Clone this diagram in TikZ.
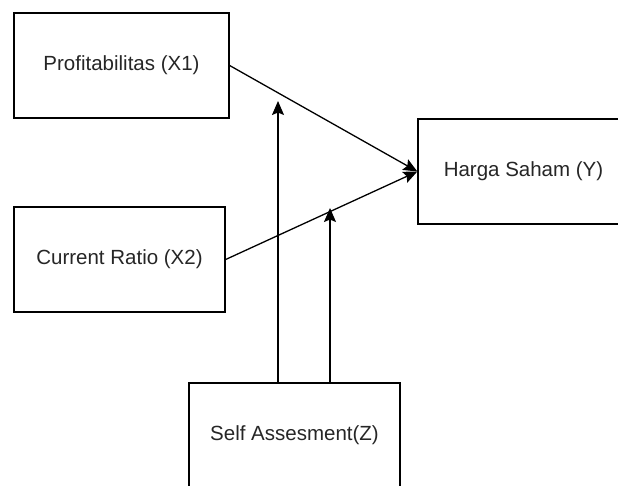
\documentclass[tikz,border=0pt]{standalone}
\usepackage{fontspec}
\setmainfont{Liberation Sans}
\usetikzlibrary{arrows.meta}
\definecolor{txt}{HTML}{262626}
\begin{document}
\begin{tikzpicture}[x=1pt,y=-1pt,
  box/.style={draw=black, line width=1.3pt, fill=white, minimum width=211pt, minimum height=105pt,
    inner sep=0pt, text=txt, font=\fontsize{20.5}{24}\selectfont},
  conn/.style={line width=1.3pt, -{Stealth[length=14pt,width=12pt,inset=2.5pt]}}]
\clip (0,0) rectangle (618,485);
\useasboundingbox (0,0) rectangle (618,485);
\fill[white] (0,0) rectangle (618,485);
\node[box, minimum width=215pt] (x1) at (121.5,65.5) {Profitabilitas (X1)};
\node[box] (x2) at (119.5,259.5) {Current Ratio (X2)};
\node[box] (y) at (523.5,171.5) {Harga Saham (Y)};
\node[box] (z) at (294.5,435.5) {Self Assesment(Z)};
\coordinate (t1) at (278,101);
\coordinate (t2) at (330,208);
\draw[conn] (x1.east) -- (y.west);
\draw[conn] (x2.east) -- (y.west);
\draw[conn] (z.north -| t1) -- (t1);
\draw[conn] (z.north -| t2) -- (t2);
\end{tikzpicture}
\end{document}
